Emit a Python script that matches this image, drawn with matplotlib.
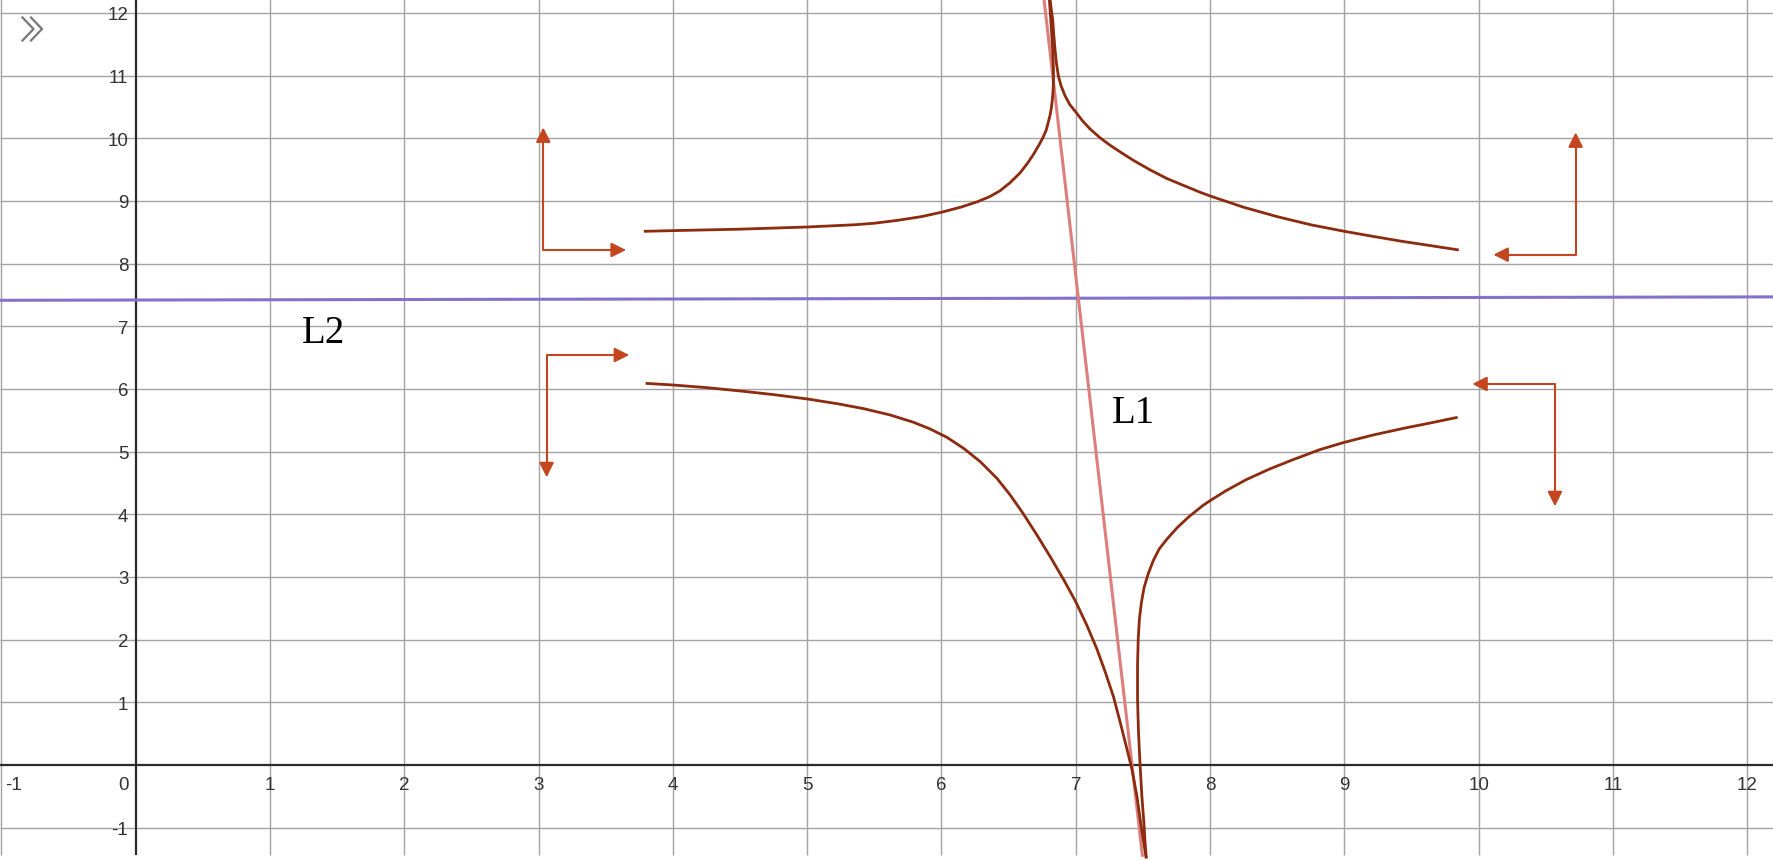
import matplotlib
matplotlib.use('Agg')
import matplotlib.pyplot as plt
from matplotlib.lines import Line2D

# grid / tick values
x_ticks = list(range(-1, 13))
y_ticks = list(range(-1, 13))

# straight lines L1 and L2 (end points)
l1_x = [6.759, 7.496]
l1_y = [12.30, -1.44]
l2_x = [-1.1, 12.3]
l2_y = [7.415, 7.47]

# upper left branch
ul_x = [3.784, 4.0, 4.5, 5.0, 5.35, 5.5, 5.67, 5.85, 6.0, 6.15, 6.27, 6.36,
        6.434, 6.51, 6.584, 6.64, 6.684, 6.72, 6.753, 6.78, 6.795, 6.81, 6.82,
        6.828, 6.833, 6.834, 6.833, 6.828, 6.82, 6.812, 6.803]
ul_y = [8.516, 8.527, 8.55, 8.585, 8.62, 8.645, 8.69, 8.75, 8.82, 8.905, 8.99, 9.07,
        9.16, 9.29, 9.445, 9.60, 9.74, 9.87, 10.0, 10.13, 10.255, 10.38, 10.51,
        10.67, 10.83, 11.0, 11.15, 11.42, 11.69, 11.95, 12.23]

# upper right branch
ur_x = [6.808, 6.818, 6.828, 6.836, 6.845, 6.856, 6.870, 6.89, 6.92, 6.955,
        7.0, 7.05, 7.106, 7.18, 7.255, 7.34, 7.428, 7.55, 7.677, 7.8, 7.925,
        8.0, 8.25, 8.5, 8.75, 9.0, 9.2, 9.43, 9.65, 9.852]
ur_y = [12.23, 12.05, 11.90, 11.66, 11.43, 11.2, 11.0, 10.84, 10.68, 10.54,
        10.42, 10.28, 10.15, 10.01, 9.89, 9.77, 9.65, 9.50, 9.36, 9.25, 9.14,
        9.08, 8.90, 8.75, 8.62, 8.516, 8.44, 8.356, 8.285, 8.218]

# lower left branch
ll_x = [3.797, 4.0, 4.255, 4.503, 4.751, 5.004, 5.222, 5.421, 5.619, 5.793,
        5.917, 6.041, 6.165, 6.289, 6.413, 6.512, 6.611, 6.711, 6.810, 6.909,
        7.0, 7.082, 7.156, 7.219, 7.281, 7.330, 7.380, 7.417, 7.454, 7.486, 7.525]
ll_y = [6.090, 6.064, 6.021, 5.968, 5.910, 5.840, 5.766, 5.686, 5.585, 5.468,
        5.361, 5.228, 5.053, 4.840, 4.574, 4.308, 4.004, 3.669, 3.323, 2.961,
        2.605, 2.232, 1.859, 1.487, 1.088, 0.689, 0.263, -0.056, -0.482, -0.961, -1.49]

# lower right branch
lr_x = [7.525, 7.516, 7.507, 7.492, 7.479, 7.467, 7.460, 7.460, 7.465, 7.474,
        7.489, 7.509, 7.539, 7.577, 7.621, 7.684, 7.758, 7.846, 7.945, 8.0,
        8.120, 8.269, 8.443, 8.618, 8.817, 9.0, 9.215, 9.440, 9.639, 9.843]
lr_y = [-1.49, -1.234, -0.915, -0.489, 0.0, 0.521, 1.053, 1.585, 2.011, 2.330,
        2.596, 2.835, 3.048, 3.261, 3.447, 3.617, 3.793, 3.968, 4.138, 4.218,
        4.378, 4.553, 4.723, 4.872, 5.032, 5.149, 5.266, 5.372, 5.457, 5.548]

# elbow arrows: corner, tip of vertical arm, tip of horizontal arm
arr_cx = [3.035, 3.06, 10.722, 10.568]
arr_cy = [8.218, 6.542, 8.143, 6.08]
arr_vtip = [10.175, 4.59, 10.096, 4.128]
arr_htip = [3.651, 3.675, 10.109, 9.952]

# text labels
names = ['L1', 'L2']
name_x = [7.267, 1.236]
name_y = [5.478, 6.745]

curve_col = '#8c2b0e'
arrow_col = '#c3461f'
grid_col = '#a3a3a3'
axis_col = '#2b2b2b'

fig = plt.figure(figsize=(17.74, 8.62), dpi=100)
ax = fig.add_axes([0, 0, 1, 1])
xmin, xmax = -1.010, 12.199
ymin, ymax = -1.532, 12.223
grid_bottom = -1.436
ax.set_xlim(xmin, xmax)
ax.set_ylim(ymin, ymax)
ax.set_axis_off()

# grid
ax.vlines([v for v in x_ticks if v != 0], grid_bottom, ymax, color=grid_col, lw=1.0, zorder=1)
ax.hlines([v for v in y_ticks if v != 0], xmin, xmax, color=grid_col, lw=1.0, zorder=1)
# axes
ax.vlines(0, grid_bottom, ymax, color=axis_col, lw=1.6, zorder=2)
ax.hlines(0, xmin, xmax, color=axis_col, lw=1.6, zorder=2)

# tick labels
lab_font = dict(family='Liberation Sans', fontsize=13.5, color='#333333')
for v in x_ticks:
    if v == 0:
        ax.annotate('0', (0, 0), xytext=(-5.3, -17.0), textcoords='offset points',
                    ha='right', va='baseline', zorder=3, **lab_font)
    elif v == -1:
        ax.annotate('-1', (v, 0), xytext=(2.6, -17.0), textcoords='offset points',
                    ha='left', va='baseline', zorder=3, **lab_font)
    else:
        ax.annotate(str(v), (v, 0), xytext=(0, -17.0), textcoords='offset points',
                    ha='center', va='baseline', zorder=3, **lab_font)
for v in y_ticks:
    if v == 0:
        continue
    ax.annotate(str(v), (0, v), xytext=(-5.3, -4.6), textcoords='offset points',
                ha='right', va='baseline', zorder=3, **lab_font)

# lines
ax.plot(l2_x, l2_y, color='#8570cc', lw=2.2, zorder=4)
ax.plot(l1_x, l1_y, color='#dc7f7c', lw=2.2, zorder=4)

# curves
for cx, cy in [(ul_x, ul_y), (ur_x, ur_y), (ll_x, ll_y), (lr_x, lr_y)]:
    ax.plot(cx, cy, color=curve_col, lw=2.0, zorder=5, solid_capstyle='butt',
            solid_joinstyle='round')

# elbow arrows
for cx, cy, vt, ht in zip(arr_cx, arr_cy, arr_vtip, arr_htip):
    ax.annotate('', xy=(ht, cy), xytext=(cx, vt),
                arrowprops=dict(arrowstyle='<|-|>', color=arrow_col, lw=1.5,
                                mutation_scale=22, shrinkA=0, shrinkB=0,
                                connectionstyle='angle,angleA=90,angleB=0,rad=0'),
                zorder=6)

# L1 / L2 names
for n, nx, ny in zip(names, name_x, name_y):
    ax.text(nx, ny, n, family='Liberation Serif', fontsize=28, color='black',
            ha='left', va='baseline', zorder=7)

# collapse icon in the corner
W, H = 1774.0, 862.0
for dx in (0, 8.5):
    xs = [(22.5 + dx) / W, (33.5 + dx) / W, (22.5 + dx) / W]
    ys = [1 - 18.5 / H, 1 - 30 / H, 1 - 41.5 / H]
    fig.add_artist(Line2D(xs, ys, color='#777777', lw=1.6, transform=fig.transFigure))

fig.savefig('out.png', dpi=100, facecolor='white')
